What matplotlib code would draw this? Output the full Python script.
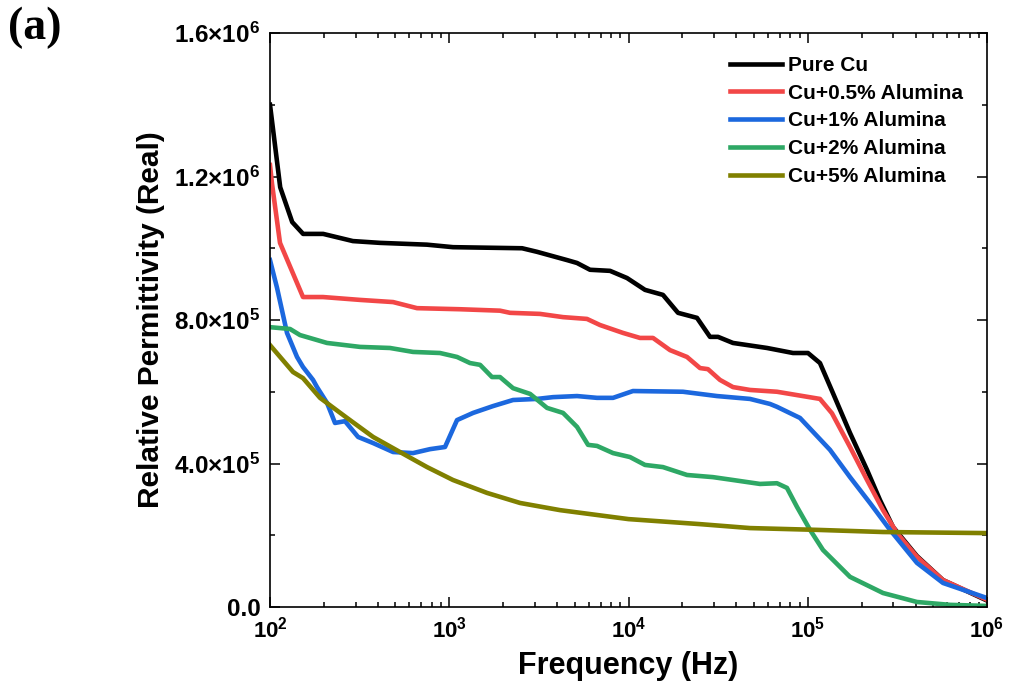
"Relative permittivity (real part) vs frequency for Cu / alumina composites."

import numpy as np
import matplotlib
matplotlib.use("Agg")
from matplotlib import pyplot as plt
from matplotlib.ticker import FixedLocator, LogLocator, NullFormatter

# ---------------------------------------------------------------------------
# Data (frequency in Hz, permittivity in units of 1e5)
# ---------------------------------------------------------------------------
f_pure = [100, 114, 133, 153, 198, 290, 411, 750, 1050, 2550, 3090, 4540,
          5160, 6100, 7890, 9810, 12360, 15570, 18890, 24100, 28490, 31580,
          38270, 59290, 82740, 100300, 117000, 138300, 172100, 214200,
          253000, 299100, 406600, 568400, 1e6]
pure_cu = [14.0, 11.7, 10.73, 10.4, 10.4, 10.2, 10.15, 10.1, 10.03, 10.0, 9.9,
           9.67, 9.59, 9.4, 9.37, 9.17, 8.84, 8.7, 8.2, 8.06, 7.53, 7.53,
           7.36, 7.22, 7.08, 7.08, 6.8, 5.96, 4.85, 3.82, 2.98, 2.23, 1.42,
           0.75, 0.18]

f_05 = [100, 102.6, 113.7, 152.8, 197.6, 318, 486, 661, 1148, 1919, 2183,
        3209, 4314, 5866, 6935, 9316, 11590, 13700, 17050, 21200, 25060,
        27750, 32380, 38270, 47630, 67340, 117000, 136500, 172100, 214200,
        263000, 314900, 406600, 568400, 1e6]
cu_05 = [12.32, 11.8, 10.15, 8.64, 8.64, 8.56, 8.5, 8.33, 8.3, 8.26, 8.2, 8.17,
         8.08, 8.03, 7.86, 7.64, 7.5, 7.5, 7.16, 6.97, 6.66, 6.63, 6.33, 6.13,
         6.05, 6.0, 5.8, 5.4, 4.46, 3.54, 2.7, 2.06, 1.4, 0.75, 0.2]

f_1 = [100, 109.4, 124.4, 141.5, 152.8, 173.8, 182.9, 208, 230.5, 262, 310,
       376, 486, 628, 781, 947, 1105, 1358, 1754, 2269, 3089, 3793, 5164,
       6673, 8202, 10590, 20130, 31170, 47630, 61560, 67340, 90500, 133100,
       172100, 222400, 287700, 406600, 568400, 1e6]
cu_1 = [9.67, 8.9, 7.64, 6.97, 6.69, 6.33, 6.13, 5.69, 5.13, 5.18, 4.74, 4.57,
        4.32, 4.29, 4.4, 4.46, 5.21, 5.41, 5.6, 5.77, 5.8, 5.85, 5.88, 5.83,
        5.83, 6.02, 6.0, 5.88, 5.8, 5.66, 5.58, 5.27, 4.38, 3.62, 2.9, 2.15,
        1.23, 0.67, 0.25]

f_2 = [100, 129.3, 147, 208, 318, 467, 628, 888, 1105, 1306, 1486, 1731,
       1919, 2269, 2825, 3511, 4314, 5164, 5946, 6673, 8202, 10190, 12360,
       15570, 21200, 29600, 38270, 54170, 67340, 76560, 87100, 103000,
       121600, 172100, 263000, 406600, 621900, 1e6]
cu_2 = [7.8, 7.75, 7.58, 7.36, 7.25, 7.22, 7.11, 7.08, 6.97, 6.8, 6.75, 6.41,
        6.41, 6.1, 5.94, 5.55, 5.41, 5.02, 4.52, 4.49, 4.29, 4.18, 3.96, 3.9,
        3.68, 3.62, 3.54, 3.43, 3.45, 3.32, 2.79, 2.15, 1.59, 0.84, 0.39,
        0.14, 0.06, 0.03]

f_5 = [100, 134.4, 152.8, 190.1, 269, 376, 531, 752, 1049, 1625, 2483, 4150,
       10000, 25060, 47630, 112700, 263000, 1e6]
cu_5 = [7.3, 6.55, 6.38, 5.83, 5.27, 4.74, 4.32, 3.9, 3.54, 3.18, 2.9, 2.7,
        2.45, 2.31, 2.2, 2.15, 2.09, 2.06]

series = [
    ("Pure Cu", f_pure, pure_cu, "#000000"),
    ("Cu+0.5% Alumina", f_05, cu_05, "#F24747"),
    ("Cu+1% Alumina", f_1, cu_1, "#1C68DE"),
    ("Cu+2% Alumina", f_2, cu_2, "#2EA865"),
    ("Cu+5% Alumina", f_5, cu_5, "#808000"),
]

y_ticks = [0, 4e5, 8e5, 1.2e6, 1.6e6]
y_tick_labels = ["0.0", "4.0×10$^{5}$", "8.0×10$^{5}$", "1.2×10$^{6}$", "1.6×10$^{6}$"]
x_ticks = [1e2, 1e3, 1e4, 1e5, 1e6]
x_tick_labels = ["10$^{2}$", "10$^{3}$", "10$^{4}$", "10$^{5}$", "10$^{6}$"]

# ---------------------------------------------------------------------------
# Style
# ---------------------------------------------------------------------------
plt.rcParams["font.family"] = ["Liberation Sans", "DejaVu Sans"]
plt.rcParams["font.weight"] = "bold"
plt.rcParams["mathtext.fontset"] = "custom"
plt.rcParams["mathtext.rm"] = "Liberation Sans:bold"
plt.rcParams["mathtext.bf"] = "Liberation Sans:bold"
plt.rcParams["mathtext.it"] = "Liberation Sans:bold"

fig = plt.figure(figsize=(10.13, 6.89), dpi=100)
ax = fig.add_axes([270 / 1013, 1 - 607 / 689, 717 / 1013, 574 / 689])

for label, f, vals, color in series:
    ax.plot(f, np.array(vals) * 1e5, color=color, lw=3.3, label=label,
            solid_joinstyle="round")

ax.set_xscale("log")
ax.set_xlim(1e2, 1e6)
ax.set_ylim(0, 1.6e6)

ax.xaxis.set_major_locator(FixedLocator(x_ticks))
ax.set_xticklabels(x_tick_labels)
ax.xaxis.set_minor_locator(LogLocator(base=10, subs=np.arange(2, 10)))
ax.xaxis.set_minor_formatter(NullFormatter())
ax.set_yticks(y_ticks)
ax.set_yticklabels(y_tick_labels)
ax.set_yticks([2e5, 6e5, 1.0e6, 1.4e6], minor=True)

ax.tick_params(which="both", direction="in", top=True, right=True, width=1.1)
ax.tick_params(which="major", length=7, pad=7)
ax.tick_params(axis="x", which="major", labelsize=16)
ax.tick_params(axis="y", which="major", labelsize=17.5)
ax.tick_params(which="minor", length=3.5)
for sp in ax.spines.values():
    sp.set_linewidth(1.2)

ax.set_xlabel("Frequency (Hz)", fontsize=22, fontweight="bold", labelpad=6)
ax.set_ylabel("Relative Permittivity (Real)", fontsize=21.5, fontweight="bold",
              labelpad=7)

ax.legend(loc="upper left", bbox_to_anchor=(730 / 1013, 1 - 56 / 689),
          bbox_transform=fig.transFigure, frameon=False, fontsize=15,
          handlelength=2.5, handletextpad=0.3, labelspacing=0.42,
          borderpad=0, borderaxespad=0)

fig.text(8 / 1013, 1 - 7 / 689, "(a)", family="Liberation Serif",
         fontweight="bold", fontsize=33, va="top", ha="left")

fig.savefig("out.png", dpi=100)
